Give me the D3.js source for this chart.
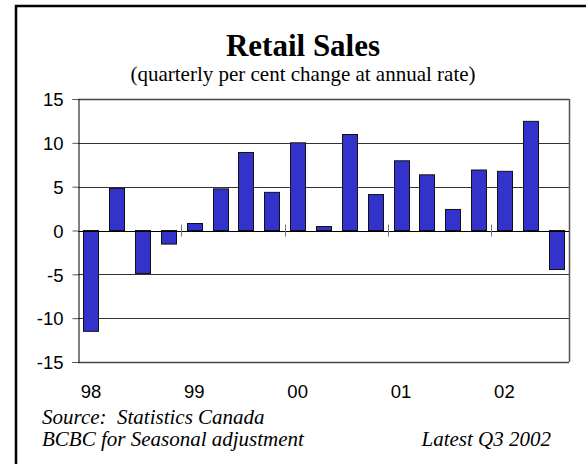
<!DOCTYPE html>
<html>
<head>
<meta charset="utf-8">
<script src="https://cdn.jsdelivr.net/npm/d3@7"></script>
<style>
  html, body { margin: 0; background: #fff; overflow: hidden; }
  svg { display: block; }
</style>
</head>
<body>
<div id="chart"></div>
<script>
// quarterly data, Q1 1998 .. Q3 2002
var quarters = ["98Q1", "98Q2", "98Q3", "98Q4", "99Q1", "99Q2", "99Q3", "99Q4",
    "00Q1", "00Q2", "00Q3", "00Q4", "01Q1", "01Q2", "01Q3", "01Q4",
    "02Q1", "02Q2", "02Q3"];
var changes = [-11.5, 4.8, -4.9, -1.55, 0.8, 4.75, 8.9, 4.35,
    10.0, 0.45, 10.95, 4.1, 7.95, 6.35, 2.4, 6.9,
    6.75, 12.45, -4.45];
var yearLabels = ["98", "99", "00", "01", "02"];
var yTicks = [-15, -10, -5, 0, 5, 10, 15];

var W = 586, H = 464;
var plot = { left: 78, top: 99, right: 569, bottom: 362 };

var svg = d3.select("#chart").append("svg")
    .attr("width", W)
    .attr("height", H);

// outer frame: only top and left edges are inside the picture
svg.append("path")
    .attr("d", "M16," + H + "V6H" + W)
    .attr("fill", "none")
    .attr("stroke", "#000")
    .attr("stroke-width", 2.5);

svg.append("text")
    .attr("x", 303).attr("y", 56)
    .attr("text-anchor", "middle")
    .style("font-family", "'Liberation Serif', 'Times New Roman', serif")
    .style("font-weight", "bold")
    .style("font-size", "31px")
    .text("Retail Sales");

svg.append("text")
    .attr("x", 303).attr("y", 81)
    .attr("text-anchor", "middle")
    .style("font-family", "'Liberation Serif', 'Times New Roman', serif")
    .style("font-size", "21px")
    .text("(quarterly per cent change at annual rate)");

var x = d3.scaleBand()
    .domain(quarters)
    .range([plot.left, plot.right])
    .paddingInner(0.42)
    .paddingOuter(0.21);

var y = d3.scaleLinear()
    .domain([-15, 15])
    .range([plot.bottom, plot.top]);

// gridlines
svg.append("g")
    .selectAll("line")
    .data(yTicks.filter(function (d) { return d != 0; }))
    .join("line")
    .attr("x1", plot.left).attr("x2", plot.right)
    .attr("y1", function (d) { return Math.round(y(d)) + 0.5; })
    .attr("y2", function (d) { return Math.round(y(d)) + 0.5; })
    .attr("stroke", function (d) { return (d == 15 || d == -15) ? "#444" : "#333"; })
    .attr("stroke-width", function (d) { return (d == 15 || d == -15) ? 1.5 : 1; });

// right edge of the plot
svg.append("line")
    .attr("x1", plot.right + 0.5).attr("x2", plot.right + 0.5)
    .attr("y1", plot.top).attr("y2", plot.bottom)
    .attr("stroke", "#555")
    .attr("stroke-width", 1.5);

// bars
svg.append("g")
    .selectAll("rect")
    .data(changes)
    .join("rect")
    .attr("x", function (d, i) { return Math.round(x(quarters[i])) + 0.5; })
    .attr("y", function (d) { return y(Math.max(0, d)); })
    .attr("width", Math.round(x.bandwidth()))
    .attr("height", function (d) { return Math.abs(y(d) - y(0)); })
    .attr("fill", "#3333cc")
    .attr("stroke", "#111")
    .attr("stroke-width", 1);

// zero line
svg.append("line")
    .attr("x1", plot.left).attr("x2", plot.right)
    .attr("y1", Math.round(y(0)) + 0.5).attr("y2", Math.round(y(0)) + 0.5)
    .attr("stroke", "#000")
    .attr("stroke-width", 1);

// year ticks on the zero line
var yearStarts = quarters.filter(function (q, i) { return i > 0 && q.slice(2) == "Q1"; });
svg.append("g")
    .selectAll("line")
    .data(yearStarts)
    .join("line")
    .attr("x1", function (q) { return Math.round(x(q) - x.step() * x.paddingInner() / 2) + 0.5; })
    .attr("x2", function (q) { return Math.round(x(q) - x.step() * x.paddingInner() / 2) + 0.5; })
    .attr("y1", y(0) - 6).attr("y2", y(0) + 6)
    .attr("stroke", "#777")
    .attr("stroke-width", 1);

// left axis
var yAxis = d3.axisLeft(y)
    .tickValues(yTicks)
    .tickFormat(function (d) { return String(d); })
    .tickSize(6)
    .tickPadding(9);
var ga = svg.append("g")
    .attr("transform", "translate(" + (plot.left + 0.5) + ",0)")
    .call(yAxis);
ga.select(".domain").attr("stroke", "#000").attr("stroke-width", 1);
ga.selectAll(".tick line").attr("stroke", "#555");
ga.selectAll(".tick text")
    .style("font-family", "'Liberation Sans', Arial, sans-serif")
    .style("font-size", "18.5px")
    .attr("fill", "#000")
    .attr("dy", "0.36em");

// year labels under first quarter of each year
svg.append("g")
    .selectAll("text")
    .data(yearLabels)
    .join("text")
    .attr("x", function (yr) { return x(yr + "Q1") + x.bandwidth() / 2; })
    .attr("y", 398)
    .attr("text-anchor", "middle")
    .style("font-family", "'Liberation Sans', Arial, sans-serif")
    .style("font-size", "18.5px")
    .text(function (yr) { return yr; });

// footer notes
var note = svg.append("g")
    .style("font-family", "'Liberation Serif', 'Times New Roman', serif")
    .style("font-style", "italic")
    .style("font-size", "21px");
note.append("text").attr("x", 42).attr("y", 424)
    .attr("xml:space", "preserve")
    .text("Source:  Statistics Canada");
note.append("text").attr("x", 42).attr("y", 446)
    .text("BCBC for Seasonal adjustment");
note.append("text").attr("x", 551).attr("y", 446)
    .attr("text-anchor", "end")
    .text("Latest Q3 2002");
</script>
</body>
</html>
